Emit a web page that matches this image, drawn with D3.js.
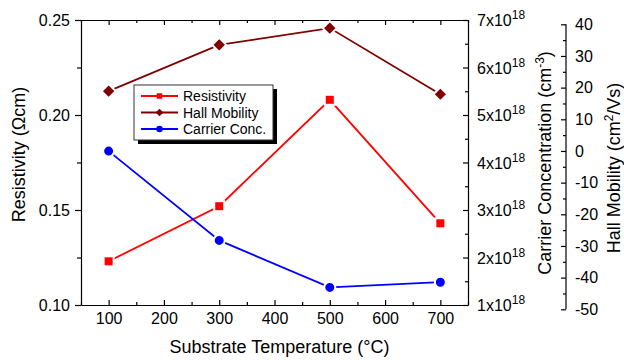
<!DOCTYPE html>
<html lang="en">
<head>
  <meta charset="UTF-8">
  <title>Resistivity, Hall Mobility and Carrier Concentration</title>
  <script src="https://d3js.org/d3.v7.min.js"></script>
  <style>
    body { margin: 0; background: #fff; }
    svg text { font-family: "Liberation Sans", Arial, sans-serif; fill: #000; }
    .axis path, .axis line { stroke: #000; stroke-width: 1.2; }
  </style>
</head>
<body>
<div id="chart"></div>
<script>
  // data
  var temps = [100, 300, 500, 700];
  var resistivity = [0.123, 0.152, 0.208, 0.143];
  var hallMobility = [18.9, 33.5, 38.8, 17.9];
  var carrierConc = [4.24e18, 2.36e18, 1.37e18, 1.48e18];

  var xTicks = [100, 200, 300, 400, 500, 600, 700];
  var resTicks = [0.10, 0.15, 0.20, 0.25];
  var carrierTicks = [1, 2, 3, 4, 5, 6, 7];   // x10^18
  var hallTicks = [-50, -40, -30, -20, -10, 0, 10, 20, 30, 40];

  var legendNames = ["Resistivity", "Hall Mobility", "Carrier Conc."];
  var colors = ["#ff0000", "#800000", "#0000ff"];

  var width = 624, height = 360;
  var plot = { left: 81, right: 468, top: 20, bottom: 305 };

  var svg = d3.select("#chart").append("svg")
    .attr("width", width)
    .attr("height", height);

  // scales
  var x = d3.scaleLinear().domain([50, 750]).range([plot.left, plot.right]);
  var yRes = d3.scaleLinear().domain([0.10, 0.25]).range([plot.bottom, plot.top]);
  var yCar = d3.scaleLinear().domain([1e18, 7e18]).range([plot.bottom, plot.top]);
  var yHall = d3.scaleLinear().domain([-50, 40]).range([309.3, 24.3]);

  function isMajor(v, list) {
    return list.some(function(m) { return Math.abs(m - v) < 1e-9 * Math.max(1, Math.abs(m)); });
  }

  // bottom axis, ticks inward
  var xAll = d3.range(50, 751, 50);
  var gx = svg.append("g").attr("class", "axis")
    .attr("transform", "translate(0," + plot.bottom + ")")
    .call(d3.axisBottom(x).tickValues(xAll).tickSize(-5).tickSizeOuter(0).tickPadding(8)
      .tickFormat(function(d) { return isMajor(d, xTicks) ? d : ""; }));
  gx.selectAll(".tick line").attr("y2", function(d) { return isMajor(d, xTicks) ? -5 : -3; });
  gx.selectAll("text").style("font-size", "16px");

  // top axis, no labels
  var gt = svg.append("g").attr("class", "axis")
    .attr("transform", "translate(0," + plot.top + ")")
    .call(d3.axisTop(x).tickValues(xAll).tickSize(-5).tickSizeOuter(0).tickFormat(""));
  gt.selectAll(".tick line").attr("y2", function(d) { return isMajor(d, xTicks) ? 5 : 3; });

  // left axis (resistivity), ticks outward
  var resAll = d3.range(0, 7).map(function(i) { return 0.10 + i * 0.025; });
  var gl = svg.append("g").attr("class", "axis")
    .attr("transform", "translate(" + plot.left + ",0)")
    .call(d3.axisLeft(yRes).tickValues(resAll).tickSize(6).tickSizeOuter(0).tickPadding(5)
      .tickFormat(function(d) { return isMajor(d, resTicks) ? d3.format(".2f")(d) : ""; }));
  gl.selectAll(".tick line").attr("x2", function(d) { return isMajor(d, resTicks) ? -6 : -4; });
  gl.selectAll("text").style("font-size", "16px");

  // right axis (carrier concentration), ticks inward
  var carAll = d3.range(0, 13).map(function(i) { return (1 + i * 0.5) * 1e18; });
  var gr = svg.append("g").attr("class", "axis")
    .attr("transform", "translate(" + plot.right + ",0)")
    .call(d3.axisRight(yCar).tickValues(carAll).tickSize(-5).tickSizeOuter(0).tickFormat(""));
  gr.selectAll(".tick line").attr("x2", function(d) { return isMajor(d / 1e18, carrierTicks) ? -5 : -3; });
  carrierTicks.forEach(function(c) {
    var t = svg.append("text")
      .attr("x", plot.right + 9)
      .attr("y", yCar(c * 1e18) + 6)
      .style("font-size", "16px");
    t.append("tspan").text(c + "x10");
    t.append("tspan").attr("dy", -7).style("font-size", "12px").text("18");
  });

  // third axis (Hall mobility), ticks to the left
  var hallX = 566;
  var hallAll = d3.range(-50, 41, 5);
  var gh = svg.append("g").attr("class", "axis")
    .attr("transform", "translate(" + hallX + ",0)")
    .call(d3.axisRight(yHall).tickValues(hallAll).tickSize(-5).tickSizeOuter(0).tickPadding(9)
      .tickFormat(function(d) { return isMajor(d, hallTicks) ? d : ""; }));
  gh.selectAll(".tick line").attr("x2", function(d) { return isMajor(d, hallTicks) ? -5 : -3; });
  gh.selectAll("text").style("font-size", "16px");
  gh.selectAll("path.domain").remove();
  gh.append("line").attr("x1", 0).attr("x2", 0)
    .attr("y1", yHall(40)).attr("y2", yHall(-50))
    .attr("stroke", "#000").attr("stroke-width", 1.2);

  // axis titles
  svg.append("text")
    .attr("x", (plot.left + plot.right) / 2 + 5)
    .attr("y", 353)
    .attr("text-anchor", "middle")
    .style("font-size", "18px")
    .text("Substrate Temperature (\u00B0C)");

  svg.append("text")
    .attr("transform", "translate(25," + ((plot.top + plot.bottom) / 2 - 8) + ") rotate(-90)")
    .attr("text-anchor", "middle")
    .style("font-size", "18px")
    .text("Resistivity (\u03A9cm)");

  var ct = svg.append("text")
    .attr("transform", "translate(551,163) rotate(-90)")
    .attr("text-anchor", "middle")
    .style("font-size", "18px");
  ct.append("tspan").text("Carrier Concentration (cm");
  ct.append("tspan").attr("dy", -7).style("font-size", "12px").text("-3");
  ct.append("tspan").attr("dy", 7).text(")");

  var ht = svg.append("text")
    .attr("transform", "translate(620,168) rotate(-90)")
    .attr("text-anchor", "middle")
    .style("font-size", "18px");
  ht.append("tspan").text("Hall Mobility (cm");
  ht.append("tspan").attr("dy", -7).style("font-size", "12px").text("2");
  ht.append("tspan").attr("dy", 7).text("/Vs)");

  // series
  var series = [
    { values: resistivity, y: yRes, color: colors[0], shape: "square" },
    { values: hallMobility, y: yHall, color: colors[1], shape: "diamond" },
    { values: carrierConc, y: yCar, color: colors[2], shape: "circle" }
  ];

  function drawMarker(g, shape, cx, cy, size, color, halo) {
    var m;
    if (shape === "square") {
      m = g.append("rect").attr("x", cx - size / 2).attr("y", cy - size / 2)
        .attr("width", size).attr("height", size);
    } else if (shape === "diamond") {
      var r = size * 0.7;
      m = g.append("path").attr("d", "M" + cx + "," + (cy - r) + "L" + (cx + r) + "," + cy +
        "L" + cx + "," + (cy + r) + "L" + (cx - r) + "," + cy + "Z");
    } else {
      m = g.append("circle").attr("cx", cx).attr("cy", cy).attr("r", size / 2 + 0.5);
    }
    m.attr("fill", color);
    if (halo) m.attr("stroke", "#fff").attr("stroke-width", 2);
  }

  series.forEach(function(s) {
    var line = d3.line()
      .x(function(d, i) { return x(temps[i]); })
      .y(function(d) { return s.y(d); });
    svg.append("path")
      .datum(s.values)
      .attr("fill", "none")
      .attr("stroke", s.color)
      .attr("stroke-width", 1.8)
      .attr("d", line);
    var g = svg.append("g");
    s.values.forEach(function(v, i) {
      drawMarker(g, s.shape, x(temps[i]), s.y(v), 10, s.color, true);
    });
  });

  // legend
  var lg = svg.append("g").attr("transform", "translate(134,85)");
  lg.append("rect").attr("x", 4).attr("y", 4).attr("width", 139).attr("height", 55).attr("fill", "#000");
  lg.append("rect").attr("width", 139).attr("height", 55)
    .attr("fill", "#fff").attr("stroke", "#333").attr("stroke-width", 1);
  legendNames.forEach(function(name, i) {
    var ly = 11 + i * 16.5;
    lg.append("line").attr("x1", 7).attr("x2", 44).attr("y1", ly).attr("y2", ly)
      .attr("stroke", colors[i]).attr("stroke-width", 1.8);
    drawMarker(lg, series[i].shape, 25.5, ly, 5.5, colors[i], false);
    lg.append("text").attr("x", 49).attr("y", ly + 5)
      .style("font-size", "14px").text(name);
  });
</script>
</body>
</html>
